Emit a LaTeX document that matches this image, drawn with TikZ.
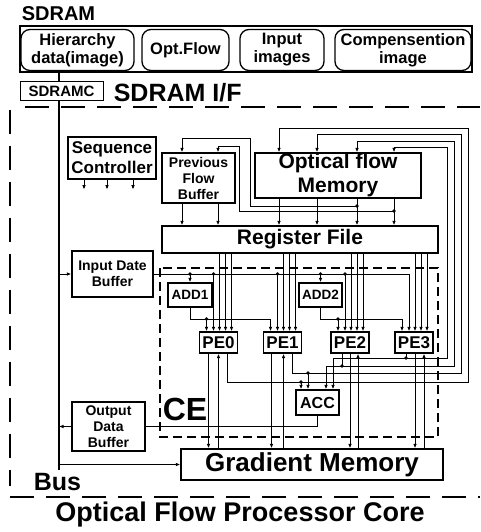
\documentclass[tikz,border=0pt]{standalone}
\usepackage{fontspec}
\setmainfont{Liberation Sans}
\usetikzlibrary{arrows.meta}

\tikzset{every picture/.style={line width=0.9pt}}
\tikzset{
  blk/.style={draw, line width=1.3pt, inner sep=0pt, align=center},
  rblk/.style={blk, rounded corners=9pt},
  wire/.style={line width=1pt},
  arr/.style={wire, -{Latex[length=4.5pt,width=3.6pt]}},
  busw/.style={line width=1.7pt},
  coreline/.style={line width=1.5pt, dash pattern=on 24pt off 12pt},
  celine/.style={line width=1.1pt, dash pattern=on 9pt off 5pt},
}
\newcommand{\fsz}[2]{\bfseries\fontsize{#1}{#2}\selectfont}

\begin{document}
\begin{tikzpicture}[x=1pt,y=1pt,yscale=-1,xscale=1]
\useasboundingbox (0,0) rectangle (480,532);

%SDRAM block
\node[anchor=base west, font=\fsz{20}{20}] (sdramlbl) at (18,20.5) {SDRAM};
\node[blk, minimum width=452pt, minimum height=46pt] (sdram) at (246,49) {};
\node[rblk, minimum width=113pt, minimum height=41pt, font=\fsz{16.5}{18}] (hier) at (77.5,50) {Hierarchy\\data(image)};
\node[rblk, minimum width=87pt, minimum height=41pt, font=\fsz{16.5}{18}] (optf) at (185.5,50) {Opt.Flow};
\node[rblk, minimum width=84pt, minimum height=41pt, font=\fsz{16.5}{18}] (inimg) at (282,50) {Input\\images};
\node[rblk, minimum width=136pt, minimum height=41pt, font=\fsz{16.5}{18}] (comp) at (403,50) {Compensention\\image};

%SDRAM I/F
\node[blk, line width=1pt, minimum width=83pt, minimum height=19pt, font=\fsz{15}{15}] (sdramc) at (61.5,91.5) {SDRAMC};
\node[anchor=base west, font=\fsz{25}{25}] (iflbl) at (110,101.5) {SDRAM I/F};

%core boundary
\draw[coreline] (25,107) -- (480,107);
\draw[coreline] (10,110) -- (10,486);
\draw[coreline] (10,497) -- (480,497);
\node[anchor=base, font=\fsz{27}{27}] (corelbl) at (240,521) {Optical Flow Processor Core};

%bus
\coordinate (bus) at (59,470);
\draw[busw] (hier.south -| bus) -- (sdramc.north -| bus);
\draw[busw] (sdramc.south -| bus) -- (bus);
\node[anchor=base, font=\fsz{25}{25}] (buslbl) at (57.5,490) {Bus};

%blocks
\node[blk, minimum width=88pt, minimum height=42pt, font=\fsz{17}{20}] (seqc) at (112,158) {Sequence\\Controller};
\node[blk, minimum width=73pt, minimum height=50pt, font=\fsz{14}{16}] (pfb) at (198.5,178) {Previous\\Flow\\Buffer};
\node[blk, minimum width=166pt, minimum height=45pt, font=\fsz{21}{24}] (ofm) at (338,175.5) {Optical flow\\Memory};
\node[blk, minimum width=276pt, minimum height=27pt, font=\fsz{21}{21}] (rf) at (300,239.5) {Register File};
\node[blk, minimum width=81pt, minimum height=46pt, font=\fsz{14}{16}] (idb) at (112.5,274) {Input Date\\Buffer};
\node[blk, minimum width=44pt, minimum height=24pt, font=\fsz{13.5}{14}] (add1) at (190,295) {ADD1};
\node[blk, minimum width=43pt, minimum height=24pt, font=\fsz{13.5}{14}] (add2) at (320.5,295) {ADD2};
\node[blk, minimum width=38pt, minimum height=21pt, font=\fsz{17}{17}] (pe0) at (218.5,342.5) {PE0};
\node[blk, minimum width=38pt, minimum height=21pt, font=\fsz{17}{17}] (pe1) at (282.5,342.5) {PE1};
\node[blk, minimum width=38pt, minimum height=21pt, font=\fsz{17}{17}] (pe2) at (350,342.5) {PE2};
\node[blk, minimum width=38pt, minimum height=21pt, font=\fsz{17}{17}] (pe3) at (414,342.5) {PE3};
\node[blk, minimum width=43pt, minimum height=25pt, font=\fsz{16}{16}] (acc) at (317.5,402.5) {ACC};
\node[blk, minimum width=73pt, minimum height=49pt, font=\fsz{14}{16}] (odb) at (108.5,426.5) {Output\\Data\\Buffer};
\node[blk, minimum width=262pt, minimum height=31pt, font=\fsz{26}{26}] (gm) at (312,464.5) {Gradient Memory};

%CE
\draw[celine] (160,268) rectangle (438,437);
\node[anchor=base west, font=\fsz{32}{32}] (celbl) at (159,420) {CE};

%bus links
\draw[arr] (idb.west -| bus) -- (idb.west);
\draw[arr] (odb.west) -- (odb.west -| bus);
\draw[arr] (gm.west -| bus) -- (gm.west);

%sequence controller outputs
\foreach \dx in {-28,-5,21} \draw[arr] ([xshift=\dx pt]seqc.south) -- ++(0,10);

%to register file
\foreach \dx in {-16.5,19.5} \draw[arr] ([xshift=\dx pt]pfb.south) -- ([xshift=\dx pt]pfb.south |- rf.north);
\foreach \dx in {-59,-21,19,56} \draw[arr] ([xshift=\dx pt]ofm.south) -- ([xshift=\dx pt]ofm.south |- rf.north);

%optical flow memory -> previous flow buffer
\coordinate (pfA) at (250,206);
\coordinate (pfAtop) at (250,138);
\coordinate (pfB) at (239,211);
\coordinate (pfBtop) at (239,146);
\draw[arr] ([xshift=19pt]ofm.south |- pfA) -- (pfA) -- (pfAtop) -- ([xshift=-16.5pt]pfb.north |- pfAtop) -- ([xshift=-16.5pt]pfb.north);
\draw[arr] ([xshift=56pt]ofm.south |- pfB) -- (pfB) -- (pfBtop) -- ([xshift=19.5pt]pfb.north |- pfBtop) -- ([xshift=19.5pt]pfb.north);
\fill ([xshift=19pt]ofm.south |- pfA) circle (1.8pt);
\fill ([xshift=56pt]ofm.south |- pfB) circle (1.8pt);

%register file -> PE
\foreach \p in {pe0,pe1,pe2,pe3}
  \foreach \dx in {1,7,13}
    \draw[arr] ([xshift=\dx pt]\p.north |- rf.south) -- ([xshift=\dx pt]\p.north);

%input data
\draw[arr] (idb.east) -- ([xshift=-5pt]pe3.north |- idb.east) -- ([xshift=-5pt]pe3.north);
\foreach \p in {pe0,pe1,pe2} {
  \draw[arr] ([xshift=-5pt]\p.north |- idb.east) -- ([xshift=-5pt]\p.north);
  \fill ([xshift=-5pt]\p.north |- idb.east) circle (1.8pt);
}
\foreach \a in {add1,add2} {
  \draw[arr] (\a.north |- idb.east) -- (\a.north);
  \fill (\a.north |- idb.east) circle (1.8pt);
}

%adders -> PE
\coordinate (sumlvl) at (0,319);
\draw[arr] (add1.south) -- (add1.south |- sumlvl) -- ([xshift=-12pt]pe1.north |- sumlvl) -- ([xshift=-12pt]pe1.north);
\draw[arr] ([xshift=-12pt]pe0.north |- sumlvl) -- ([xshift=-12pt]pe0.north);
\fill ([xshift=-12pt]pe0.north |- sumlvl) circle (1.8pt);
\draw[arr] (add2.south) -- (add2.south |- sumlvl) -- ([xshift=-12pt]pe3.north |- sumlvl) -- ([xshift=-12pt]pe3.north);
\draw[arr] ([xshift=-12pt]pe2.north |- sumlvl) -- ([xshift=-12pt]pe2.north);
\fill ([xshift=-12pt]pe2.north |- sumlvl) circle (1.8pt);

%PE <-> gradient memory
\foreach \p/\dn/\up in {pe0/-10/0,pe1/-11/1,pe2/0/8,pe3/1/10} {
  \draw[arr] ([xshift=\dn pt]\p.south) -- ([xshift=\dn pt]\p.south |- gm.north);
  \draw[arr] ([xshift=\up pt]\p.south |- gm.north) -- ([xshift=\up pt]\p.south);
}

%PE -> ACC and back to optical flow memory
\coordinate (r0) at (468,382); \coordinate (t0) at (468,128);
\coordinate (r1) at (461,373); \coordinate (t1) at (461,134);
\coordinate (r2) at (454,366); \coordinate (t2) at (454,141);
\coordinate (r3) at (447,358); \coordinate (t3) at (447,147);
\foreach \p/\o/\k/\f/\a in {pe0/9/0/-59/-16.5,pe1/10/1/-21/-9.5,pe2/-8/2/19/8.5,pe3/-8/3/56/15.5} {
  \draw[arr] ([xshift=\o pt]\p.south) -- ([xshift=\o pt]\p.south |- r\k) -- (r\k) -- (t\k) -- ([xshift=\f pt]ofm.north |- t\k) -- ([xshift=\f pt]ofm.north);
  \draw[arr] ([xshift=\o pt]\p.south |- r\k) -- ([xshift=\a pt]acc.north |- r\k) -- ([xshift=\a pt]acc.north);
}
\fill ([xshift=-16.5pt]acc.north |- r0) circle (1.8pt);
\fill ([xshift=-9.5pt]acc.north |- r1) circle (1.8pt);
\fill ([xshift=-8pt]pe2.south |- r2) circle (1.8pt);
\fill ([xshift=-8pt]pe3.south |- r3) circle (1.8pt);

%ACC -> output data buffer
\draw[wire] (acc.south) -- (acc.south |- odb.east) -- (odb.east);

\end{tikzpicture}
\end{document}
